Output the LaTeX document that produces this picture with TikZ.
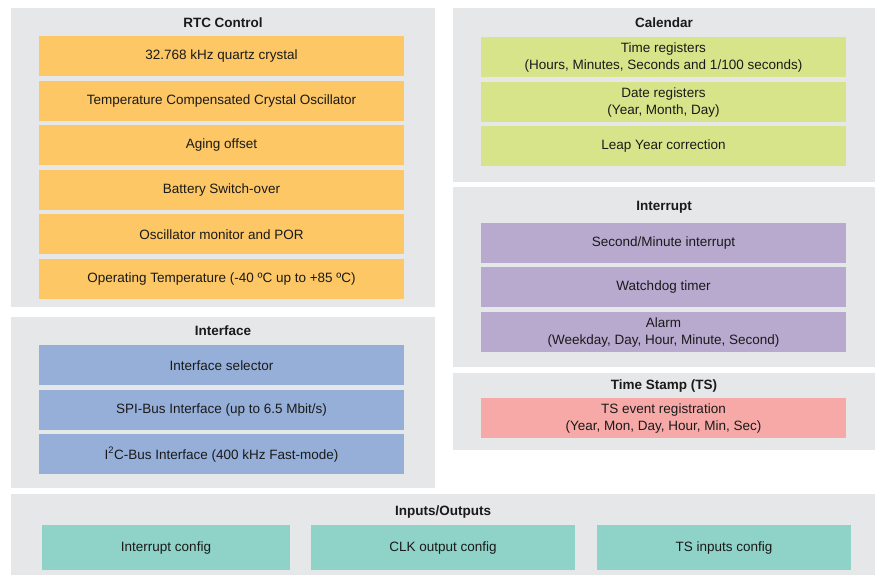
\documentclass[tikz,border=0pt]{standalone}
\usepackage{fontspec}
\setmainfont{Liberation Sans}
\definecolor{panelgray}{HTML}{E6E7E8}
\definecolor{rtcorange}{HTML}{FDC765}
\definecolor{calgreen}{HTML}{D7E489}
\definecolor{intpurple}{HTML}{B8A9CE}
\definecolor{ifblue}{HTML}{95AFD9}
\definecolor{ioteal}{HTML}{8ED2C8}
\definecolor{tspink}{HTML}{F7A9A8}
\definecolor{inktext}{HTML}{1A1A1A}
\tikzset{
  panel/.style={fill=panelgray, draw=none},
  ptitle/.style={font=\fontsize{13.5}{16}\selectfont\bfseries, text=inktext, inner sep=0pt},
  block/.style={draw=none, inner sep=0pt, align=center, text=inktext,
    font=\fontsize{13.5}{16.5}\selectfont},
}
% a block from (x1,y1) to (x2,y2) in pixel units, y downwards
\newcommand{\blk}[7]{%
  \fill[#6] (#2,#3) rectangle (#4,#5);
  \node[block] (#1) at ({(#2+#4)/2},{(#3+#5)/2+0.5}) {#7};}
\begin{document}
\begin{tikzpicture}[x=1pt,y=-1pt]
\useasboundingbox (0,0) rectangle (875,575);
\fill[white] (0,0) rectangle (875,575);

% panels
\fill[panel] (11,8) rectangle (435,307);
\fill[panel] (11,317) rectangle (435,488);
\fill[panel] (453,8) rectangle (875,182);
\fill[panel] (453,187) rectangle (875,367);
\fill[panel] (453,373) rectangle (875,450);
\fill[panel] (11,494) rectangle (875,575);

% titles
\node[ptitle] (trtc) at (223,23) {RTC Control};
\node[ptitle] (tif) at (223,331) {Interface};
\node[ptitle] (tcal) at (664,23) {Calendar};
\node[ptitle] (tint) at (664,207) {Interrupt};
\node[ptitle] (tts) at (664,386) {Time Stamp (TS)};
\node[ptitle] (tio) at (443,512) {Inputs/Outputs};

% RTC control
\blk{r1}{39}{36}{404}{76}{rtcorange}{32.768 kHz quartz crystal}
\blk{r2}{39}{81}{404}{121}{rtcorange}{Temperature Compensated Crystal Oscillator}
\blk{r3}{39}{125}{404}{165}{rtcorange}{Aging offset}
\blk{r4}{39}{170}{404}{210}{rtcorange}{Battery Switch-over}
\blk{r5}{39}{214}{404}{254}{rtcorange}{Oscillator monitor and POR}
\blk{r6}{39}{259}{404}{299}{rtcorange}{Operating Temperature (-40 ºC up to +85 ºC)}

% Interface
\blk{i1}{39}{345}{404}{385}{ifblue}{Interface selector}
\blk{i2}{39}{390}{404}{430}{ifblue}{SPI-Bus Interface (up to 6.5 Mbit/s)}
\blk{i3}{39}{434}{404}{474}{ifblue}{I\textsuperscript{2}C-Bus Interface (400 kHz Fast-mode)}

% Calendar
\blk{c1}{481}{37}{846}{77}{calgreen}{Time registers\\(Hours, Minutes, Seconds and 1/100 seconds)}
\blk{c2}{481}{82}{846}{122}{calgreen}{Date registers\\(Year, Month, Day)}
\blk{c3}{481}{126}{846}{166}{calgreen}{Leap Year correction}

% Interrupt
\blk{n1}{481}{223}{846}{263}{intpurple}{Second/Minute interrupt}
\blk{n2}{481}{267}{846}{307}{intpurple}{Watchdog timer}
\blk{n3}{481}{312}{846}{352}{intpurple}{Alarm\\(Weekday, Day, Hour, Minute, Second)}

% Time stamp
\blk{s1}{481}{398}{846}{438}{tspink}{TS event registration\\(Year, Mon, Day, Hour, Min, Sec)}

% Inputs/Outputs
\blk{o1}{42}{525}{290}{570}{ioteal}{Interrupt config}
\blk{o2}{311}{525}{575}{570}{ioteal}{CLK output config}
\blk{o3}{597}{525}{851}{570}{ioteal}{TS inputs config}
\end{tikzpicture}
\end{document}
